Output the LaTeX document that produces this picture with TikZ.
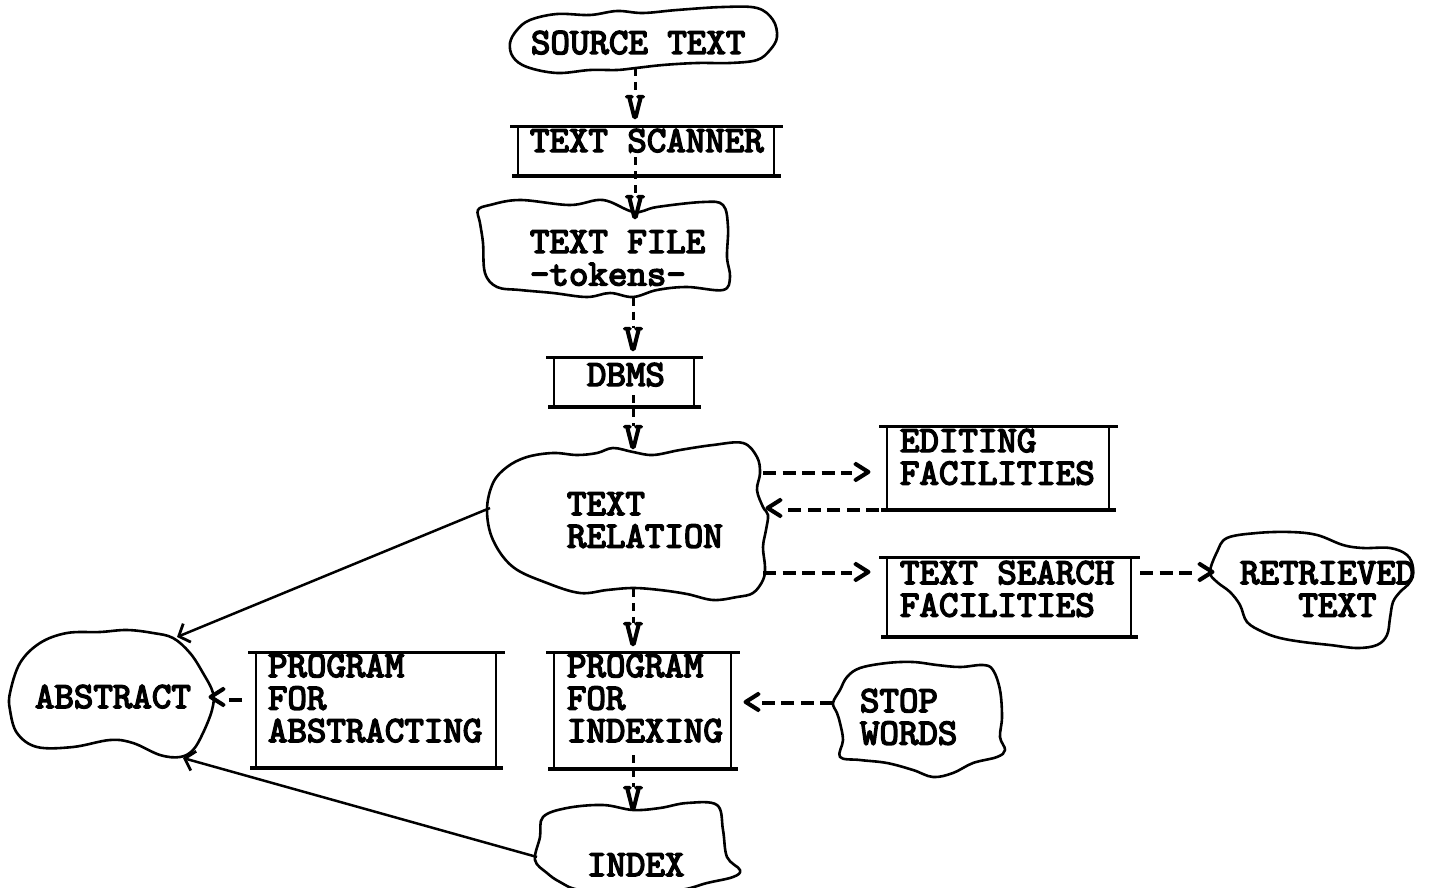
\documentclass[tikz,border=0pt]{standalone}
\usepackage{fontspec}
\newfontfamily\tw{lmmono10-regular.otf}[FakeBold=4]
\usetikzlibrary{calc,arrows.meta}
\newcommand\fixsp{\spaceskip=0pt\xspaceskip=0pt\relax}
\tikzset{
 txt/.style={font=\tw\fontsize{37.1}{32.5}\selectfont, inner sep=0pt, outer sep=0pt},
 mtxt/.style={txt, text width=#1, align=left},
 glyph/.style={txt, anchor=center},
 cloudline/.style={line width=2.6pt, line join=round},
 topline/.style={line width=3pt},
 botline/.style={line width=4.5pt},
 sideline/.style={line width=2.6pt},
 vdash/.style={line width=3pt, dash pattern=on 8pt off 6pt},
 hdash/.style={line width=4pt, dash pattern=on 13pt off 6.5pt},
 solidarrow/.style={line width=2.5pt, -{Straight Barb[length=9pt,width=20pt,line width=2.8pt]}},
}
\newcommand\procbox[5]{%
 \node[inner sep=0pt, outer sep=0pt, minimum width={(#3-#2)*1pt}, minimum height={(#5-#4)*1pt}] (#1) at ({(#2+#3)/2},{(#4+#5)/2}) {};
 \draw[topline] (#1.north west) -- (#1.north east);
 \draw[botline] ($(#1.south west)+(2,0)$) -- ($(#1.south east)+(-2,0)$);
 \draw[sideline] ($(#1.north west)+(8,0)$) -- ($(#1.south west)+(8,0)$);
 \draw[sideline] ($(#1.north east)+(-9,0)$) -- ($(#1.south east)+(-9,0)$);
}
\begin{document}
\begin{tikzpicture}[x=1pt,y=-1pt]
\useasboundingbox (0,0) rectangle (1431,888);
\clip (0,0) rectangle (1431,888);

% cloud outlines
\draw[cloudline] plot[smooth cycle, tension=0.6] coordinates {(510,43) (517,30) (530,20) (557,14) (590,15) (617,11) (643,13) (677,10) (723,7) (757,8) (773,20) (777,37) (770,50) (757,60) (730,63) (697,63) (663,65) (636,68) (617,70) (590,70) (557,73) (527,67) (513,57)};
\draw[cloudline] plot[smooth cycle, tension=0.6] coordinates {(480,223) (478,210) (490,205) (520,200) (570,205) (603,200) (634,212) (657,207) (703,202) (723,205) (728,227) (727,257) (730,277) (723,290) (687,287) (657,290) (633,297) (610,293) (587,297) (553,293) (520,290) (497,287) (485,273) (483,243)};
\draw[cloudline] plot[smooth cycle, tension=0.6] coordinates {(487,510) (493,483) (507,467) (527,457) (553,453) (577,455) (597,453) (613,448) (633,452) (653,455) (680,450) (713,445) (743,443) (757,457) (760,473) (757,490) (763,507) (768,515) (766,530) (763,547) (765,567) (763,580) (753,593) (737,597) (713,600) (687,594) (660,590) (633,588) (607,590) (580,593) (547,583) (513,567) (493,540)};
\draw[cloudline] plot[smooth cycle, tension=0.6] coordinates {(10,693) (20,663) (40,643) (67,633) (100,632) (127,630) (153,633) (173,638) (190,653) (203,673) (213,693) (212,710) (203,733) (193,750) (180,757) (160,755) (133,743) (110,740) (73,747) (37,747) (17,733) (10,710)};
\draw[cloudline] plot[smooth cycle, tension=0.6] coordinates {(833,703) (840,690) (847,677) (860,668) (887,663) (913,662) (937,665) (960,667) (983,665) (993,670) (1000,690) (1002,717) (1000,737) (1005,750) (997,757) (973,763) (953,773) (933,777) (913,770) (887,763) (860,760) (840,757) (843,740) (840,723) (837,713)};
\draw[cloudline] plot[smooth cycle, tension=0.6] coordinates {(543,817) (567,808) (603,805) (633,810) (660,808) (687,803) (717,805) (723,830) (727,857) (740,870) (733,877) (707,883) (680,890) (630,893) (580,890) (560,882) (547,873) (535,860) (540,837)};
\draw[cloudline] plot[smooth cycle, tension=0.6] coordinates {(1210,572) (1217,552) (1227,538) (1257,533) (1290,532) (1317,535) (1343,545) (1363,548) (1390,548) (1407,555) (1413,568) (1410,582) (1400,592) (1393,602) (1390,618) (1387,635) (1377,645) (1357,648) (1330,645) (1303,642) (1280,638) (1263,632) (1247,622) (1240,605) (1230,592) (1217,582)};

% boxes
\procbox{scan}{510}{783}{127}{176}
\procbox{dbms}{546}{703}{357}{407}
\procbox{ed}{879}{1118}{426}{510}
\procbox{ts}{879}{1140}{557}{637}
\procbox{pfa}{248}{505}{652}{768}
\procbox{pfi}{546}{740}{652}{769}

% texts
\node[txt, anchor=base west] (src) at (531,54) {SOURCE TEXT};
\node[txt, anchor=base west] (scant) at (530,152) {TEXT SCANNER};
\node[mtxt=180, anchor=base west] (tf) at (530,253) {\fixsp TEXT FILE\\-tokens-};
\node[txt, anchor=base west] (dbmst) at (587,386) {DBMS};
\node[mtxt=160, anchor=base west] (tr) at (567,515) {TEXT\\RELATION};
\node[mtxt=200, anchor=base west] (edt) at (900,452) {EDITING\\FACILITIES};
\node[mtxt=220, anchor=base west] (tst) at (900,584) {\fixsp TEXT SEARCH\\FACILITIES};
\node[mtxt=180, anchor=base west] (rt) at (1240,584) {RETRIEVED\\\hphantom{RET}TEXT};
\node[mtxt=220, anchor=base west] (pfat) at (268,677) {PROGRAM\\FOR\\ABSTRACTING};
\node[mtxt=160, anchor=base west] (pfit) at (567,677) {PROGRAM\\FOR\\INDEXING};
\node[txt, anchor=base west] (abs) at (35,708) {ABSTRACT};
\node[mtxt=100, anchor=base west] (sw) at (860,712) {STOP\\WORDS};
\node[txt, anchor=base west] (idx) at (587,876) {INDEX};

% arrowhead glyphs
\node[glyph] (v1) at (635,107) {V};
\node[glyph] (v2) at (635,207) {V};
\node[glyph] (v3) at (633,339) {V};
\node[glyph] (v4) at (633,437) {V};
\node[glyph] (v5) at (633,634) {V};
\node[glyph] (v6) at (633,798) {V};
\node[glyph] (gt1) at (862,473) {>};
\node[glyph] (lt1) at (774,509) {<};
\node[glyph] (gt2) at (862,573) {>};
\node[glyph] (gt3) at (1206,573) {>};
\node[glyph] (lt2) at (752,703) {<};
\node[glyph] (lt3) at (217,698) {<};

% vertical dashed connectors
\draw[vdash] ($(src.base -| v1)+(0,14)$) -- (v1.north);
\draw[vdash] ($(scan.south -| v2)+(0,-19)$) -- (v2.north);
\draw[vdash] ($(tf.south -| v3)+(0,12)$) -- (v3.north);
\draw[vdash] ($(dbms.south -| v4)+(0,-12)$) -- (v4.north);
\draw[vdash] ($(tr.south -| v5)+(0,41)$) -- (v5.north);
\draw[vdash] ($(pfi.south -| v6)+(0,-14)$) -- (v6.north);

% horizontal dashed connectors
\draw[hdash] ($(gt1 -| tr.base west)+(196,0)$) -- (gt1.west);
\draw[hdash] (ed.south west) -- (ed.south west -| lt1.east);
\draw[hdash] ($(gt2 -| tr.base west)+(196,0)$) -- (gt2.west);
\draw[hdash] (ts.east |- gt3) -- (gt3.west);
\draw[hdash] ($(lt2 -| sw.base west)+(-27,0)$) -- (lt2.east);
\draw[line width=4pt] ($(pfa.west |- lt3)+(-6,2)$) -- ($(lt3.east)+(2,2)$);

% solid arrows
\draw[solidarrow] ($(tr.base west)+(-77,-7)$) -- ($(abs.base west)+(142,-71)$);
\draw[solidarrow] ($(idx.base west)+(-50,-19)$) -- ($(abs.base west)+(148,50)$);
\end{tikzpicture}
\end{document}
